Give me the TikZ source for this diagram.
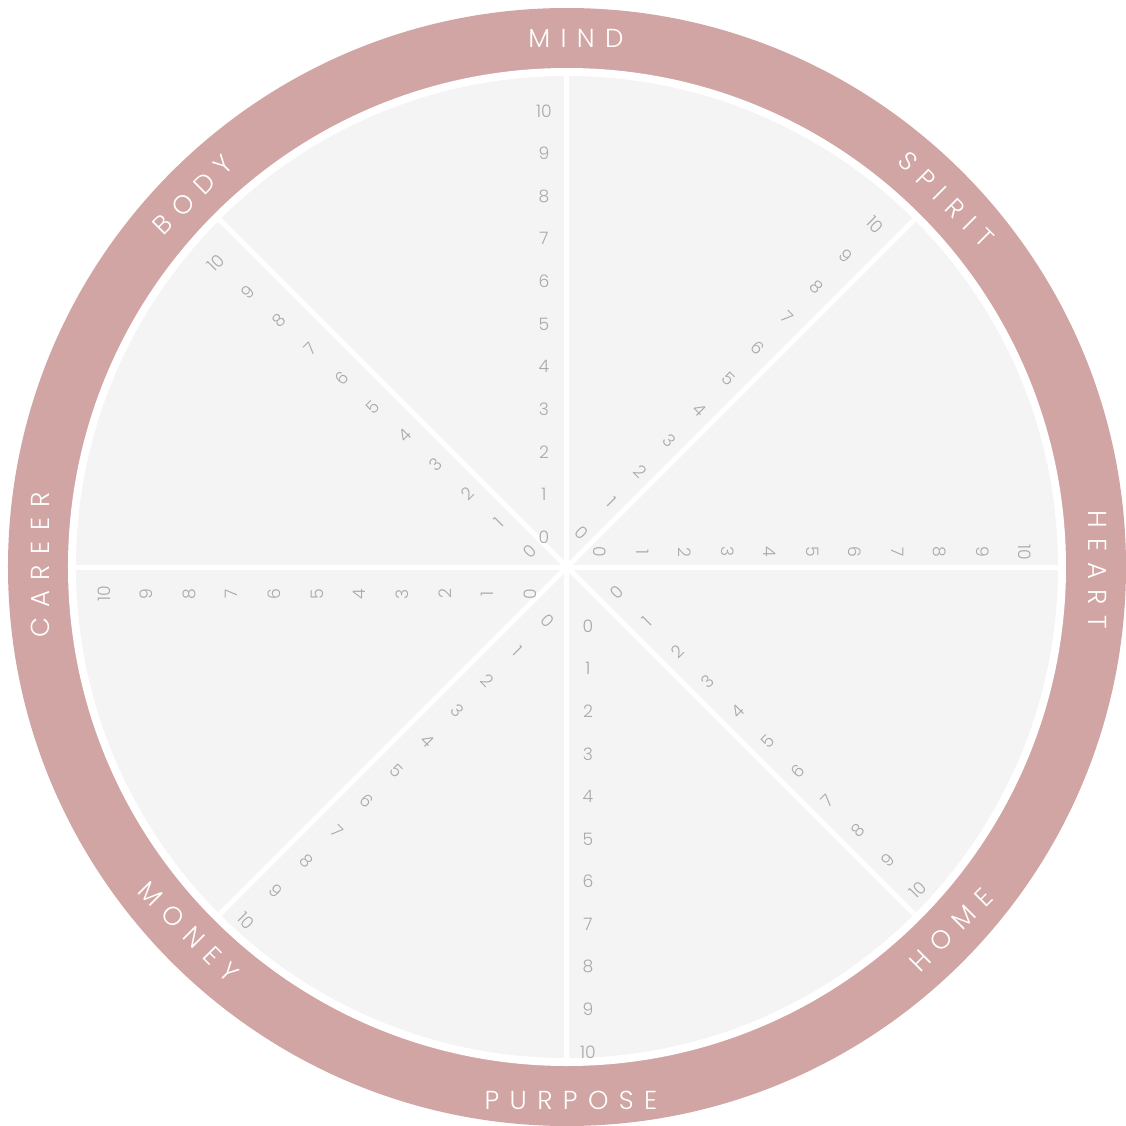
\documentclass[tikz,border=0pt]{standalone}
\usepackage{fontspec}
\setmainfont{Poppins}[UprightFont=* Light]
\newfontfamily\ringfont{Poppins}[UprightFont=* Light, LetterSpace=40]
\usetikzlibrary{calc}
\definecolor{ringpink}{HTML}{D0A5A4}
\definecolor{discgray}{HTML}{F4F4F4}
\definecolor{numgray}{HTML}{A9A9A9}

\begin{document}
\begin{tikzpicture}[x=0.5pt, y=0.5pt,
  spoke/.style={draw=white, line width=2.5pt},
  num/.style={text=numgray, inner sep=0pt, font=\fontsize{8.6}{8.6}\selectfont},
  ringlabel/.style={text=white, inner sep=0pt, font=\ringfont\fontsize{13}{13}\selectfont}]
  \useasboundingbox (-567,-559) rectangle (559,567);
  \coordinate (O) at (0,0);

  % 外圈、白缝、灰盘
  \fill[ringpink] (O) circle (559);
  \fill[white] (O) circle (499);
  \fill[discgray] (O) circle (491);

  % 八条辐条
  \foreach \ang in {0,45,...,315} {
    \coordinate (s\ang) at (\ang:491);
    \draw[spoke] (O) -- (s\ang);
  }

  % 外圈文字
  \foreach \lab/\rot/\x/\y in {MIND/0/9/529, SPIRIT/-45/379/368, HEART/-90/531/-3,
                               HOME/45/384/-363, PURPOSE/0/4/-533, MONEY/-45/-378/-365,
                               CAREER/90/-527/2, BODY/45/-374/372}
    \node[ringlabel, rotate=\rot] (lab-\lab) at (\x,\y) {\lab};

  % 刻度数字 0--10，(ax,ay) 为 0 的位置，(bx,by) 为 10 的位置
  \foreach \lab/\rot/\ax/\ay/\bx/\by in {mind/0/-23/30/-23/456,
                                         spirit/-45/15/34/308/342,
                                         heart/-90/33/15/458/15,
                                         home/45/50/-25/351/-323,
                                         purpose/0/21/-59/21/-485,
                                         money/-45/-19/-54/-321/-354,
                                         career/90/-37/-27/-463/-27,
                                         body/45/-37/16/-351/304}
    \foreach \k in {0,...,10}
      \node[num, rotate=\rot] (n-\lab-\k) at ($(\ax,\ay)!\k/10!(\bx,\by)$) {\k};
\end{tikzpicture}
\end{document}
